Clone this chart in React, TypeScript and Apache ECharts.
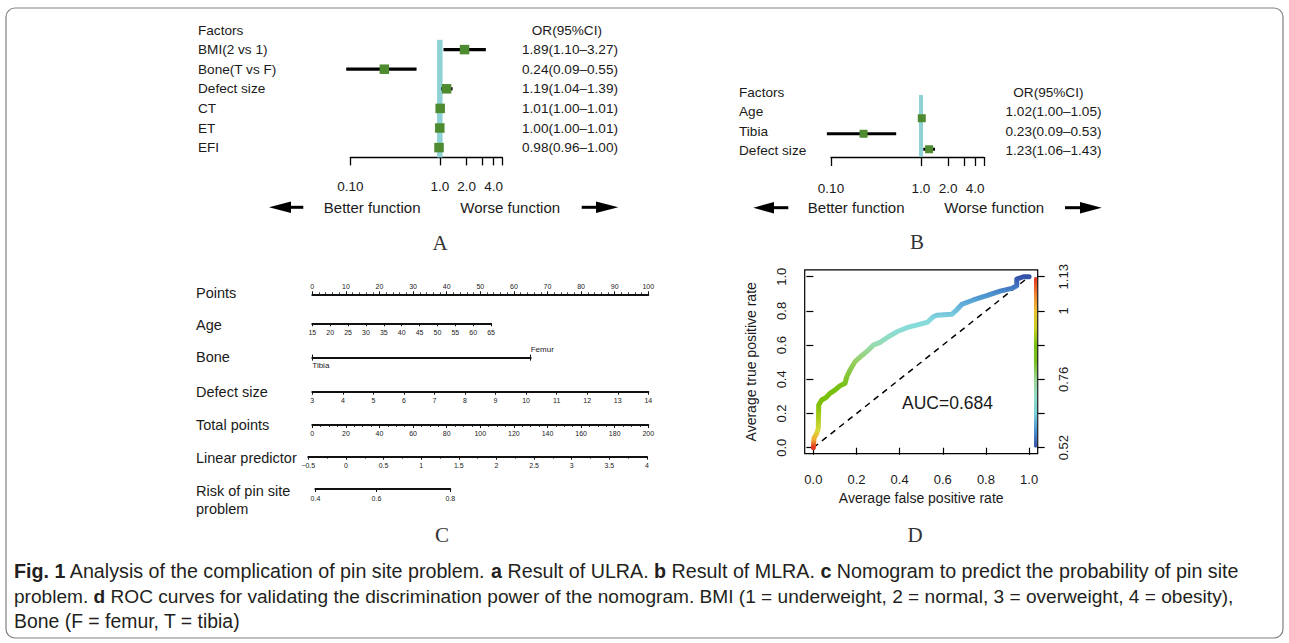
import React, { useEffect, useRef } from 'react';
import * as echarts from 'echarts';

// ---------------- Panel A : univariate logistic regression ----------------
const aFactors = ['BMI(2 vs 1)', 'Bone(T vs F)', 'Defect size', 'CT', 'ET', 'EFI'];
const aOR = [1.89, 0.24, 1.19, 1.01, 1.0, 0.98];
const aLow = [1.1, 0.09, 1.04, 1.0, 1.0, 0.96];
const aHigh = [3.27, 0.55, 1.39, 1.01, 1.01, 1.0];

// ---------------- Panel B : multivariate logistic regression ----------------
const bFactors = ['Age', 'Tibia', 'Defect size'];
const bOR = [1.02, 0.23, 1.23];
const bLow = [1.0, 0.09, 1.06];
const bHigh = [1.05, 0.53, 1.43];

const forestTicks = [0.1, 1, 2, 3, 4, 5];
const forestLabelVals = [0.1, 1, 2, 4];
const forestLabelText = ['0.10', '1.0', '2.0', '4.0'];
const forestRange = [0.1, 5];
const refOR = 1;

// ---------------- Panel C : nomogram scales ----------------
const pointsRange = [0, 100];
const pointsStep = 10;
const ageRange = [15, 65];
const ageStep = 5;
const agePoints = 53.2;
const boneLevels = ['Tibia', 'Femur'];
const bonePoints = 65;
const defectRange = [3, 14];
const defectStep = 1;
const defectPoints = 100;
const totalRange = [0, 200];
const totalStep = 20;
const lpRange = [-0.5, 4];
const lpStep = 0.5;
const riskTicks = [0.4, 0.6, 0.8];

// ---------------- Panel D : ROC ----------------
const rocFPR = [0, 0.003, 0.016, 0.023, 0.025, 0.039, 0.06, 0.077, 0.1, 0.124, 0.147, 0.155, 0.17, 0.193, 0.224, 0.255, 0.278, 0.309, 0.348, 0.387, 0.433, 0.487, 0.53, 0.556, 0.575, 0.642, 0.66, 0.688, 0.742, 0.804, 0.866, 0.92, 0.943, 0.943, 0.974, 1];
const rocTPR = [0, 0.055, 0.084, 0.113, 0.25, 0.279, 0.295, 0.318, 0.337, 0.363, 0.377, 0.415, 0.454, 0.503, 0.538, 0.571, 0.6, 0.616, 0.649, 0.678, 0.702, 0.72, 0.735, 0.766, 0.775, 0.78, 0.8, 0.838, 0.864, 0.889, 0.916, 0.932, 0.947, 0.986, 1, 1];
const chanceLine = [0, 1];
const rocTicks = [0, 0.2, 0.4, 0.6, 0.8, 1];
const cutoffRange = [0.52, 1.13];
const cutoffTickPos = [0, 0.4, 0.8, 1];
const cutoffTickText = ['0.52', '0.76', '1', '1.13'];
const aucText = 'AUC=0.684';

const captionLines = [
  '{b|Fig. 1} Analysis of the complication of pin site problem. {b|a} Result of ULRA. {b|b} Result of MLRA. {b|c} Nomogram to predict the probability of pin site',
  'problem. {b|d} ROC curves for validating the discrimination power of the nomogram. BMI (1 = underweight, 2 = normal, 3 = overweight, 4 = obesity),',
  'Bone (F = femur, T = tibia)',
];

// ---------------- styles ----------------
const FONT = '"Liberation Sans", Arial, Helvetica, sans-serif';
const SERIF = '"Liberation Serif", "Times New Roman", serif';
const CAPFONT = '"Liberation Sans", Arial, sans-serif';
const CAPSIZES = [19.7, 19.1, 19.4];
const INK = '#1a1a1a';
const GREEN = '#4e8b30';
const CYAN = '#8fd2d5';
const rocColors = ['#e03020', '#f0b030', '#d8d838', '#b8d028', '#a0c818', '#80c008', '#78c008', '#78c010', '#80c428', '#88c848', '#98d060', '#98d488', '#98dcb0', '#90dcc8', '#88dcd8', '#84d8dc', '#70c0dc', '#5ca8d8', '#4a90cc', '#4070c0', '#3550a8'];
const barColors = ['#3a50a8', '#4a90d0', '#78d0dc', '#90dcc8', '#98d490', '#78c020', '#78c010', '#c8d020', '#e8c030', '#f08030', '#e83020'];

const log10 = (v: number) => Math.log10(v);
const logit = (p: number) => Math.log(p / (1 - p));
const orText = (o: number, l: number, h: number) => `${o.toFixed(2)}(${l.toFixed(2)}–${h.toFixed(2)})`;

function forestRender(sq: number, lw: number) {
  return (params: any, api: any) => {
    const row = api.value(3);
    const a = api.coord([api.value(1), row]);
    const b = api.coord([api.value(2), row]);
    const c = api.coord([api.value(0), row]);
    return {
      type: 'group',
      children: [
        { type: 'line', shape: { x1: a[0], y1: a[1], x2: b[0], y2: b[1] }, style: { stroke: '#000', lineWidth: lw } },
        { type: 'rect', shape: { x: c[0] - sq / 2, y: c[1] - sq / 2, width: sq, height: sq }, style: { fill: GREEN } },
      ],
    };
  };
}

function refRender(lw: number) {
  return (params: any, api: any) => {
    const x = api.value(0);
    const p1 = api.coord([x, api.value(1)]);
    const p2 = api.coord([x, api.value(2)]);
    const band = api.size([0, 1])[1];
    return {
      type: 'line',
      shape: { x1: p1[0], y1: p1[1] - band / 2, x2: p2[0], y2: p2[1] + band / 2 },
      style: { stroke: CYAN, lineWidth: lw },
    };
  };
}

const logFmt = (v: number) => {
  const i = forestLabelVals.findIndex((t) => Math.abs(log10(t) - v) < 1e-6);
  return i >= 0 ? forestLabelText[i] : '';
};

function forestX(gridIndex: number, tickLen: number, margin: number) {
  return {
    gridIndex,
    type: 'value',
    min: log10(forestRange[0]),
    max: log10(forestRange[1]),
    axisLine: { show: true, onZero: false, lineStyle: { color: '#000', width: 1.3 } },
    axisTick: { show: true, customValues: forestTicks.map(log10), length: tickLen, lineStyle: { color: '#000', width: 1.3 } },
    axisLabel: { show: true, customValues: forestLabelVals.map(log10), formatter: logFmt, margin, fontSize: 13.5, color: INK, fontFamily: FONT, hideOverlap: false },
    splitLine: { show: false },
  };
}

function labelY(gridIndex: number, data: string[], position: string, margin: number, align: string, pad = 0) {
  return {
    gridIndex,
    type: 'category',
    position,
    inverse: true,
    data,
    axisLine: { show: false },
    axisTick: { show: false },
    splitLine: { show: false },
    axisLabel: {
      show: true,
      interval: 0,
      margin,
      align,
      fontSize: 13.6,
      color: INK,
      fontFamily: FONT,
      hideOverlap: false,
      formatter: (v: string, i: number) => (pad && i === 0 ? `{h|${v}}` : v),
      rich: { h: { padding: [0, pad, 0, 0], fontSize: 13.6, color: INK, fontFamily: FONT } },
    },
  };
}

function nomoX(gridIndex: number, min: number, max: number, opts: any = {}) {
  return {
    gridIndex,
    type: 'value',
    min,
    max,
    interval: opts.interval,
    position: opts.position || 'bottom',
    axisLine: { show: true, onZero: false, lineStyle: { color: '#111', width: 2 } },
    axisTick: { show: true, length: 3, customValues: opts.customValues, lineStyle: { color: '#111', width: 1 } },
    minorTick: opts.minor ? { show: true, splitNumber: opts.minor, length: 2, lineStyle: { color: '#111', width: 0.8 } } : { show: false },
    axisLabel: {
      show: true,
      fontSize: 7,
      color: '#222',
      fontFamily: FONT,
      margin: opts.margin ?? 5,
      hideOverlap: false,
      showMinLabel: true,
      showMaxLabel: true,
      customValues: opts.customValues,
      formatter: opts.formatter,
    },
    splitLine: { show: false },
  };
}

function hiddenY(gridIndex: number) {
  return { gridIndex, type: 'value', show: false, min: 0, max: 1 };
}

function buildOption() {
  // layout (pixels)
  const aLeft = 350.3;
  const aWidth = 89.5 * (log10(forestRange[1]) - log10(forestRange[0]));
  const bLeft = 831;
  const bWidth = 90 * (log10(forestRange[1]) - log10(forestRange[0]));
  const nLeft = 312.3;
  const nWidth = 336;
  const lpLeft = 308.3;
  const lpWidth = 338.7;
  const lpPx = lpWidth / (lpRange[1] - lpRange[0]);
  const riskLeft = lpLeft + (logit(riskTicks[0]) - lpRange[0]) * lpPx;
  const riskWidth = (logit(riskTicks[riskTicks.length - 1]) - logit(riskTicks[0])) * lpPx;
  const G = { outerBoundsMode: 'none', containLabel: false };

  const grid = [
    { ...G, left: aLeft, top: 20.2, width: aWidth, height: 137.2 }, // 0 A
    { ...G, left: bLeft, top: 83, width: bWidth, height: 77.3 }, // 1 B text
    { ...G, left: bLeft, top: 95, width: bWidth, height: 62 }, // 2 B marks
    { ...G, left: nLeft, top: 294.3, width: nWidth * (pointsRange[1] - pointsRange[0]) / 100, height: 1 }, // 3 points
    { ...G, left: nLeft, top: 322.3, width: (nWidth * agePoints) / 100, height: 1 }, // 4 age
    { ...G, left: nLeft, top: 356.6, width: (nWidth * bonePoints) / 100, height: 1 }, // 5 bone
    { ...G, left: nLeft, top: 390.7, width: (nWidth * defectPoints) / 100, height: 1 }, // 6 defect
    { ...G, left: nLeft, top: 424, width: nWidth, height: 1 }, // 7 total
    { ...G, left: lpLeft, top: 455.7, width: lpWidth, height: 1 }, // 8 lp
    { ...G, left: riskLeft, top: 488, width: riskWidth, height: 1 }, // 9 risk
    { ...G, left: 804.7, top: 269.9, width: 233, height: 183.8, show: true, borderColor: '#000', borderWidth: 1.2, backgroundColor: 'transparent' }, // 10 ROC
  ];

  const lpFmt = (v: number) => (v < 0 ? '\u2212' + Math.abs(v) : String(v));
  const riskFmt = (v: number) => (1 / (1 + Math.exp(-v))).toFixed(1);

  const xAxis: any[] = [
    forestX(0, 8, 22), // 0
    { gridIndex: 1, type: 'value', show: false }, // 1
    forestX(2, 9, 24), // 2
    nomoX(3, pointsRange[0], pointsRange[1], { interval: pointsStep, position: 'top', minor: 5, margin: 4 }), // 3
    nomoX(4, ageRange[0], ageRange[1], { interval: ageStep, margin: 6 }), // 4
    {
      gridIndex: 5, type: 'category', data: boneLevels, boundaryGap: false, position: 'bottom',
      axisLine: { show: true, onZero: false, lineStyle: { color: '#111', width: 2 } },
      axisTick: { show: true, length: 3, interval: 0, lineStyle: { color: '#111', width: 1 } },
      axisLabel: { show: true, interval: 0, align: 'left', fontSize: 8, color: '#222', fontFamily: FONT, margin: 4, formatter: (v: string, i: number) => (i === 0 ? v : '') },
      splitLine: { show: false },
    }, // 5
    {
      gridIndex: 5, type: 'category', data: boneLevels, boundaryGap: false, position: 'top',
      axisLine: { show: false },
      axisTick: { show: true, length: 3, interval: 0, lineStyle: { color: '#111', width: 1 } },
      axisLabel: { show: true, interval: 0, align: 'left', fontSize: 8, color: '#222', fontFamily: FONT, margin: 3, formatter: (v: string, i: number) => (i === 1 ? v : '') },
      splitLine: { show: false },
    }, // 6
    nomoX(6, defectRange[0], defectRange[1], { interval: defectStep }), // 7
    nomoX(7, totalRange[0], totalRange[1], { interval: totalStep, minor: 4 }), // 8
    nomoX(8, lpRange[0], lpRange[1], { interval: lpStep, minor: 2, formatter: lpFmt }), // 9
    nomoX(9, logit(riskTicks[0]), logit(riskTicks[riskTicks.length - 1]), { customValues: riskTicks.map(logit), formatter: riskFmt, margin: 5.5 }), // 10
    {
      gridIndex: 10, type: 'value', min: -0.04, max: 1.04,
      axisLine: { show: false },
      axisTick: { show: true, customValues: rocTicks, length: 7, lineStyle: { color: '#000', width: 1.2 } },
      axisLabel: { show: true, customValues: rocTicks, formatter: (v: number) => v.toFixed(1), margin: 19, fontSize: 13, color: INK, fontFamily: FONT, hideOverlap: false },
      splitLine: { show: false },
      name: 'Average false positive rate', nameLocation: 'middle', nameGap: 37,
      nameTextStyle: { fontSize: 14, color: INK, fontFamily: FONT },
    }, // 11
  ];

  const yAxis: any[] = [
    labelY(0, ['Factors', ...aFactors], 'left', aLeft - 198, 'left'), // 0
    labelY(0, ['OR(95%CI)', ...aFactors.map((_, i) => orText(aOR[i], aLow[i], aHigh[i]))], 'right', 618 - (aLeft + aWidth), 'right', 16), // 1
    labelY(1, ['Factors', ...bFactors], 'left', bLeft - 739, 'left'), // 2
    labelY(1, ['OR(95%CI)', ...bFactors.map((_, i) => orText(bOR[i], bLow[i], bHigh[i]))], 'right', 1101.5 - (bLeft + bWidth), 'right', 18), // 3
    { gridIndex: 2, type: 'category', inverse: true, data: ['Factors', ...bFactors], show: false }, // 4
    hiddenY(3), hiddenY(4), hiddenY(5), hiddenY(6), hiddenY(7), hiddenY(8), hiddenY(9), // 5..11
    {
      gridIndex: 10, type: 'value', min: -0.035, max: 1.04, position: 'left',
      axisLine: { show: false },
      axisTick: { show: true, customValues: rocTicks, length: 7, lineStyle: { color: '#000', width: 1.2 } },
      axisLabel: { show: true, customValues: rocTicks, rotate: 90, formatter: (v: number) => v.toFixed(1), margin: 16.5, fontSize: 13, color: INK, fontFamily: FONT, hideOverlap: false },
      splitLine: { show: false },
      name: 'Average true positive rate', nameLocation: 'middle', nameGap: 47,
      nameTextStyle: { fontSize: 14, color: INK, fontFamily: FONT },
    }, // 12
    {
      gridIndex: 10, type: 'value', min: -0.035, max: 1.04, position: 'right',
      axisLine: { show: false },
      axisTick: { show: true, customValues: rocTicks, length: 7, lineStyle: { color: '#000', width: 1.2 } },
      axisLabel: {
        show: true, customValues: cutoffTickPos, rotate: 90, margin: 19, fontSize: 13, color: INK, fontFamily: FONT, hideOverlap: false,
        formatter: (v: number) => {
          const i = cutoffTickPos.findIndex((p) => Math.abs(p - v) < 1e-6);
          return i >= 0 ? cutoffTickText[i] : '';
        },
      },
      splitLine: { show: false },
    }, // 13
  ];

  const series: any[] = [
    {
      type: 'custom', coordinateSystem: 'cartesian2d', xAxisIndex: 0, yAxisIndex: 0, silent: true, z: 2,
      renderItem: refRender(5.5),
      dimensions: ['x', { name: 'r1', type: 'ordinal' }, { name: 'r2', type: 'ordinal' }],
      encode: { x: 0, y: [1, 2] },
      data: [[log10(refOR), aFactors[0], aFactors[aFactors.length - 1]]],
    },
    {
      type: 'custom', coordinateSystem: 'cartesian2d', xAxisIndex: 0, yAxisIndex: 0, silent: true, z: 3,
      renderItem: forestRender(9.5, 3.2),
      dimensions: ['or', 'lo', 'hi', { name: 'row', type: 'ordinal' }],
      encode: { x: [0, 1, 2], y: 3 },
      data: aFactors.map((f, i) => [log10(aOR[i]), log10(aLow[i]), log10(aHigh[i]), f]),
    },
    {
      type: 'custom', coordinateSystem: 'cartesian2d', xAxisIndex: 2, yAxisIndex: 4, silent: true, z: 2,
      renderItem: refRender(4),
      dimensions: ['x', { name: 'r1', type: 'ordinal' }, { name: 'r2', type: 'ordinal' }],
      encode: { x: 0, y: [1, 2] },
      data: [[log10(refOR), 'Factors', bFactors[bFactors.length - 1]]],
    },
    {
      type: 'custom', coordinateSystem: 'cartesian2d', xAxisIndex: 2, yAxisIndex: 4, silent: true, z: 3,
      renderItem: forestRender(8, 3),
      dimensions: ['or', 'lo', 'hi', { name: 'row', type: 'ordinal' }],
      encode: { x: [0, 1, 2], y: 3 },
      data: bFactors.map((f, i) => [log10(bOR[i]), log10(bLow[i]), log10(bHigh[i]), f]),
    },
    {
      type: 'line', xAxisIndex: 11, yAxisIndex: 12, silent: true, z: 2,
      data: [[chanceLine[0], chanceLine[0]], [chanceLine[1], chanceLine[1]]],
      symbol: 'none',
      lineStyle: { color: '#000', width: 1.5, type: [6, 5] },
    },
    {
      type: 'line', xAxisIndex: 11, yAxisIndex: 12, silent: true, z: 3,
      data: rocFPR.map((x, i) => [x, rocTPR[i]]),
      symbol: 'none',
      lineStyle: { width: 5, cap: 'round', join: 'round' },
    },
  ];

  const visualMap: any[] = [
    { type: 'continuous', show: false, seriesIndex: 5, dimension: 1, min: 0, max: 1, inRange: { color: rocColors } },
    {
      type: 'continuous', show: true, seriesIndex: [], min: cutoffRange[0], max: cutoffRange[1], calculable: false,
      left: 1034, top: 277, itemWidth: 3.3, itemHeight: 170.7, padding: 0, text: null, hoverLink: false,
      inRange: { color: barColors },
    },
  ];

  const txt = (text: string, x: number, y: number, size: number, align = 'left', family = FONT, fill = INK) => ({
    type: 'text', silent: true,
    style: { text, x, y, fontSize: size, fontFamily: family, fill, textAlign: align, textVerticalAlign: 'middle', align, verticalAlign: 'middle' },
  });

  const arrow = (tipX: number, baseX: number, endX: number, y: number) => [
    { type: 'line', silent: true, shape: { x1: baseX, y1: y, x2: endX, y2: y }, style: { stroke: '#000', lineWidth: 3 } },
    { type: 'polygon', silent: true, shape: { points: [[tipX, y], [baseX, y - 5.8], [baseX, y + 5.8]] }, style: { fill: '#000' } },
  ];

  const graphic: any[] = [
    { type: 'rect', silent: true, shape: { x: 6, y: 8, width: 1277, height: 630, r: 9 }, style: { fill: 'none', stroke: '#808080', lineWidth: 1.2 } },
    txt('Better function', 372.2, 207.3, 15, 'center'),
    txt('Worse function', 510.2, 207.3, 15, 'center'),
    ...arrow(269, 291, 303.3, 207.3),
    ...arrow(618.3, 596, 581.7, 207.3),
    txt('Better function', 856.2, 207.7, 15, 'center'),
    txt('Worse function', 994.2, 207.7, 15, 'center'),
    ...arrow(753.3, 774, 788.3, 207.7),
    ...arrow(1101.7, 1080, 1065, 207.7),
    txt('A', 440, 243, 21, 'center', SERIF, '#333'),
    txt('B', 917, 241.7, 21, 'center', SERIF, '#333'),
    txt('C', 442, 535, 21, 'center', SERIF, '#333'),
    txt('D', 915, 535, 21, 'center', SERIF, '#333'),
    txt('Points', 196, 293.3, 14.5),
    txt('Age', 196, 325, 14.5),
    txt('Bone', 196, 357.3, 14.5),
    txt('Defect size', 196, 392.3, 14.5),
    txt('Total points', 196, 425, 14.5),
    txt('Linear predictor', 196, 458.3, 14.5),
    txt('Risk of pin site', 196, 490.7, 14.5),
    txt('problem', 196, 509.3, 14.5),
    txt(aucText, 947.5, 403.3, 17.5, 'center'),
    ...captionLines.map((line, i) => ({
      type: 'text', silent: true,
      style: {
        text: line, x: 14, y: 571 + i * 25, fontSize: CAPSIZES[i], fontFamily: CAPFONT, fill: '#231f20',
        textAlign: 'left', textVerticalAlign: 'middle', align: 'left', verticalAlign: 'middle',
        rich: { b: { fontWeight: 'bold', fontSize: CAPSIZES[i], fontFamily: CAPFONT, fill: '#231f20', color: '#231f20' } },
      },
    })),
  ];

  return {
    animation: false,
    backgroundColor: '#ffffff',
    textStyle: { fontFamily: FONT },
    grid,
    xAxis,
    yAxis,
    series,
    visualMap,
    graphic,
  };
}

export default function App() {
  const ref = useRef<HTMLDivElement>(null);
  useEffect(() => {
    const chart = echarts.init(ref.current as HTMLDivElement, undefined, { renderer: 'svg' });
    chart.setOption(buildOption() as any);
    return () => chart.dispose();
  }, []);
  return <div ref={ref} style={{ position: 'absolute', left: 0, top: 0, width: 1289, height: 643, background: '#fff' }} />;
}
